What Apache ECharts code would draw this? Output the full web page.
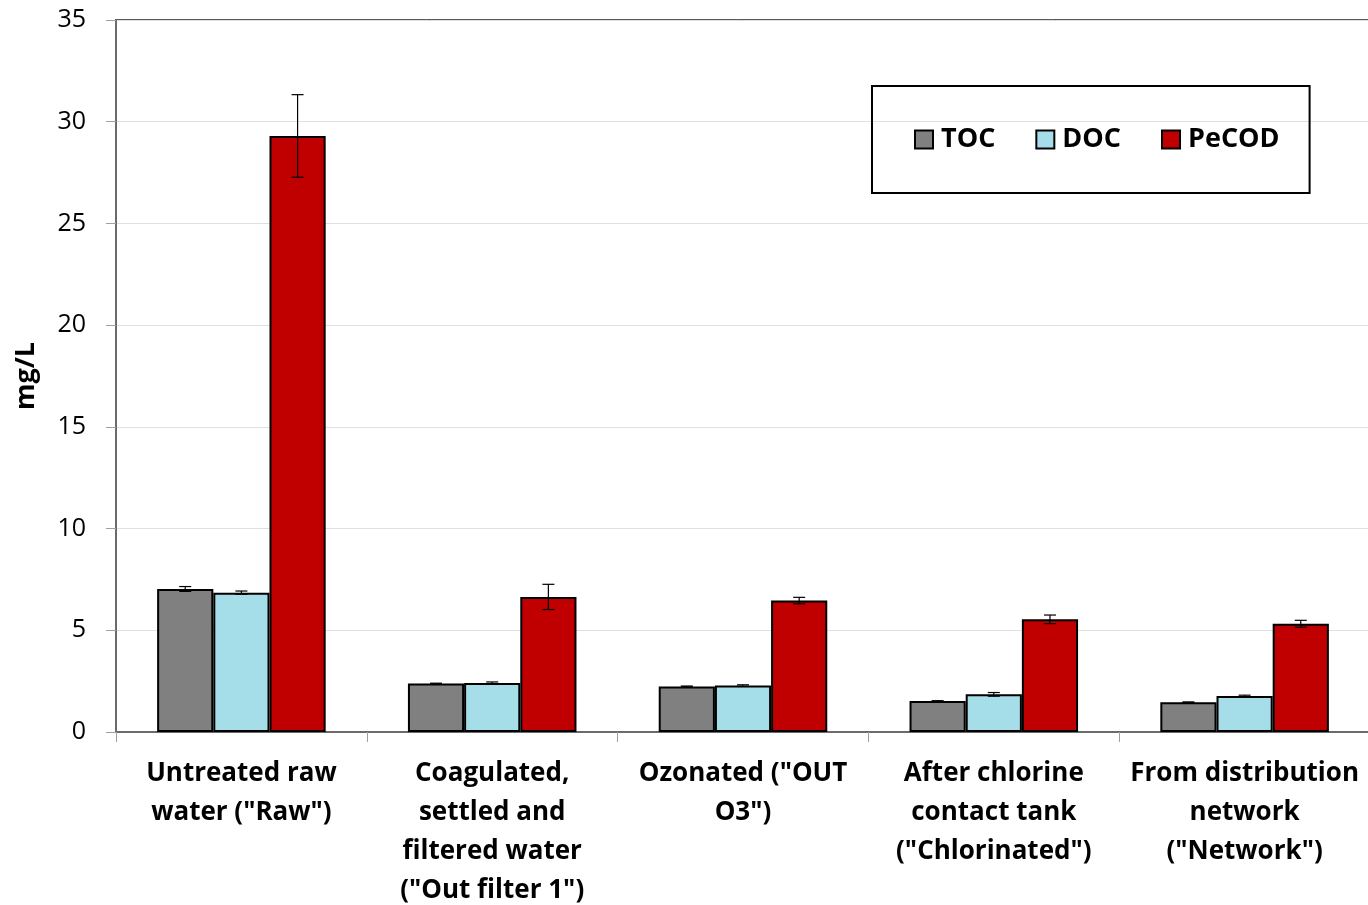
<!DOCTYPE html>
<html>
<head>
<meta charset="utf-8">
<script src="https://cdn.jsdelivr.net/npm/echarts@6/dist/echarts.min.js"></script>
<style>html,body{margin:0;padding:0;background:#fff;}#c{width:1368px;height:905px;}</style>
</head>
<body>
<div id="c"></div>
<script>
const categories = [
  'Untreated raw\nwater ("Raw")',
  'Coagulated,\nsettled and\nfiltered water\n("Out filter 1")',
  'Ozonated ("OUT\nO3")',
  'After chlorine\ncontact tank\n("Chlorinated")',
  'From distribution\nnetwork\n("Network")'
];
const seriesNames = ['TOC', 'DOC', 'PeCOD'];
const tocValues = [7.03, 2.38, 2.24, 1.52, 1.46];
const tocErrors = [0.12, 0.02, 0.02, 0.02, 0.02];
const docValues = [6.85, 2.41, 2.28, 1.85, 1.77];
const docErrors = [0.08, 0.05, 0.04, 0.09, 0.04];
const pecodValues = [29.3, 6.64, 6.46, 5.54, 5.32];
const pecodErrors = [2.03, 0.62, 0.16, 0.21, 0.17];
const yTicks = [0, 5, 10, 15, 20, 25, 30, 35];

const colors = ['#808080', '#A5DEE8', '#C00000'];
const allValues = [tocValues, docValues, pecodValues];
const allErrors = [tocErrors, docErrors, pecodErrors];
const BAR_FRAC = 0.224;
const FONT = 'Open Sans';

const chart = echarts.init(document.getElementById('c'), null, {renderer: 'canvas'});

const barSeries = seriesNames.map((n, i) => ({
  name: n,
  type: 'bar',
  data: allValues[i],
  barWidth: (BAR_FRAC * 100) + '%',
  barGap: '0%',
  itemStyle: {color: colors[i], borderColor: '#000', borderWidth: 2},
  z: 2
}));

const errSeries = seriesNames.map((n, i) => ({
  type: 'custom',
  name: n + ' err',
  z: 5,
  silent: true,
  data: allValues[i].map((v, k) => [k, v - allErrors[i][k], v + allErrors[i][k]]),
  renderItem: function (params, api) {
    const k = api.value(0);
    const lo = api.coord([k, api.value(1)]);
    const hi = api.coord([k, api.value(2)]);
    const band = api.size([1, 0])[0];
    const off = (i - 1) * BAR_FRAC * band;
    const x = lo[0] + off;
    const cap = 6;
    const style = {stroke: '#000', lineWidth: 1.2};
    return {
      type: 'group',
      children: [
        {type: 'line', shape: {x1: x, y1: lo[1], x2: x, y2: hi[1]}, style: style},
        {type: 'line', shape: {x1: x - cap, y1: hi[1], x2: x + cap, y2: hi[1]}, style: style},
        {type: 'line', shape: {x1: x - cap, y1: lo[1], x2: x + cap, y2: lo[1]}, style: style}
      ]
    };
  },
  encode: {x: 0, y: [1, 2]}
}));

chart.setOption({
  animation: false,
  backgroundColor: '#fff',
  grid: {left: 116, right: -2, top: 20, bottom: 173, outerBoundsMode: 'none', containLabel: false,
         show: true, borderColor: '#5a5a5a', borderWidth: 2, backgroundColor: 'transparent'},
  legend: {
    data: seriesNames,
    left: 872, top: 86,
    padding: [40, 30, 40, 42],
    borderColor: '#000', borderWidth: 2,
    itemWidth: 18, itemHeight: 18, itemGap: 40,
    icon: 'rect',
    textStyle: {fontFamily: FONT, fontWeight: 'bold', fontSize: 27, color: '#000', padding: [0, 0, 0, 3]}
  },
  xAxis: {
    type: 'category',
    data: categories,
    axisLine: {lineStyle: {color: '#6b6b6b', width: 2}},
    axisTick: {show: true, length: 10, lineStyle: {color: '#a0a0a0', width: 1}},
    axisLabel: {fontFamily: FONT, fontWeight: 'bold', fontSize: 26, color: '#000', lineHeight: 39, margin: 22, interval: 0},
    splitLine: {show: false}
  },
  yAxis: {
    type: 'value',
    min: yTicks[0], max: yTicks[yTicks.length - 1], interval: 5,
    name: 'mg/L',
    nameLocation: 'middle',
    nameGap: 76,
    nameRotate: 90,
    nameTextStyle: {fontFamily: FONT, fontWeight: 'bold', fontSize: 27, color: '#000'},
    axisLine: {show: true, lineStyle: {color: '#6b6b6b', width: 2}},
    axisTick: {show: true, length: 10, lineStyle: {color: '#a0a0a0', width: 1}},
    axisLabel: {fontFamily: FONT, fontSize: 25, color: '#000', margin: 30},
    splitLine: {lineStyle: {color: '#e0e0e0', width: 1}}
  },
  series: barSeries.concat(errSeries)
});
</script>
</body>
</html>
